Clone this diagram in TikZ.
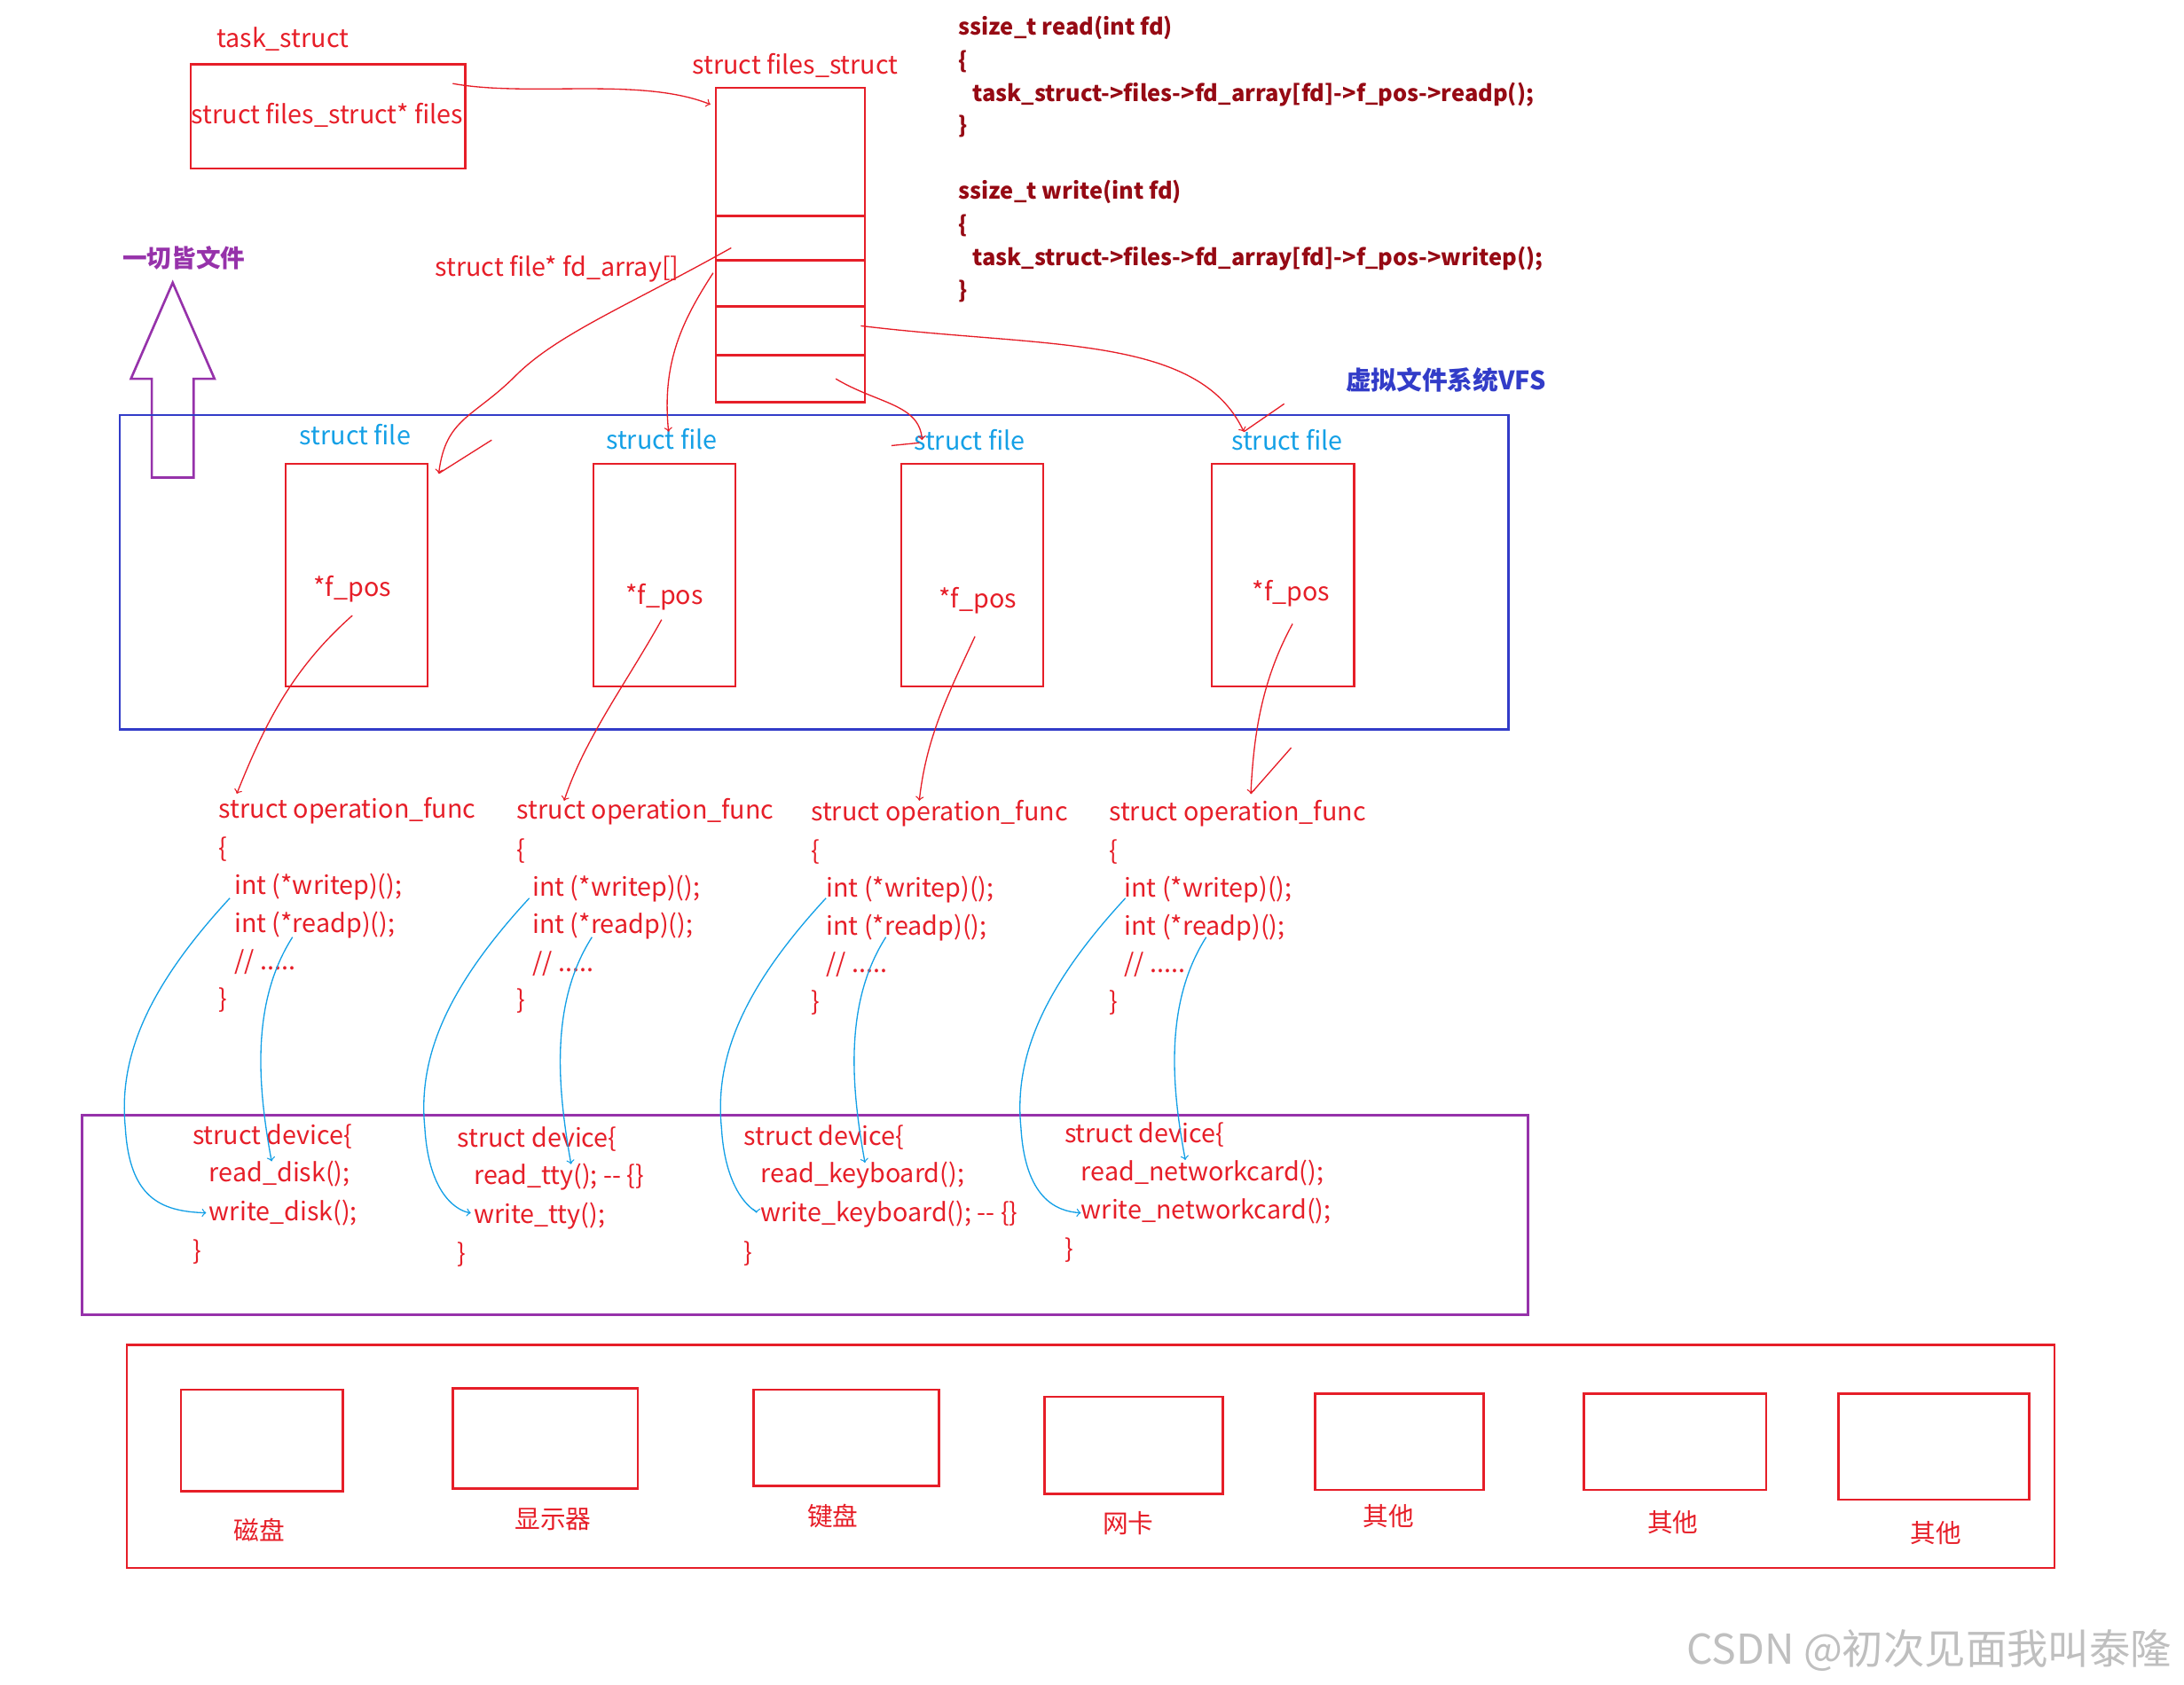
\documentclass[tikz,border=0pt]{standalone}
\usepackage{fontspec}
\setmainfont{Noto Sans CJK SC}
\definecolor{rd}{RGB}{230,30,40}
\definecolor{dr}{RGB}{150,10,20}
\definecolor{cy}{RGB}{20,160,230}
\definecolor{bl}{RGB}{50,60,200}
\definecolor{pu}{RGB}{150,50,170}
\tikzset{
 t/.style={font=\fontsize{13}{15}\selectfont,inner sep=0pt},
 rt/.style={t,text=rd,anchor=west},
 ct/.style={t,text=dr,anchor=west,font=\fontsize{11.5}{14}\selectfont\bfseries},
 box/.style={draw=rd,line width=1.2pt},
 rc/.style={draw=rd,line width=0.6pt,->,>=to},
 cc/.style={draw=cy,line width=0.6pt,->,>=to},
}
\begin{document}
\begin{tikzpicture}[x=0.025cm,y=-0.025cm]
\useasboundingbox (0,0) rectangle (1568,1210);
% top
\node[t,text=rd] (ts) at (203,28) {task\_struct};
\draw[box] (137,46) rectangle (334,121);
\node[t,text=rd] (ff) at (235,83) {struct files\_struct* files};
\node[t,text=rd] (fsl) at (571,47) {struct files\_struct};
\draw[box] (514,63) rectangle (621,289);
\foreach \y in {155,187,220,255} \draw[rd,line width=1.2pt] (514,\y)--(621,\y);
\coordinate (fsin) at (510,75);
\draw[rc] (325,60) .. controls (380,70) and (460,55) .. (fsin);
% code
\foreach \yy/\fn/\fp in {20/read/readp,138/write/writep}{
 \node[ct] at (688,\yy) {ssize\_t \fn(int fd)};
 \node[ct] at (688,\yy+24) {\{};
 \node[ct] at (698,\yy+48) {task\_struct->files->fd\_array[fd]->f\_pos->\fp();};
 \node[ct] at (688,\yy+71) {\}};
}
% everything is a file
\node[t,text=pu,font=\fontsize{12.5}{15}\bfseries] (ev) at (132,185) {一切皆文件};
\draw[pu,line width=1.2pt] (109,343)--(139,343)--(139,272)--(154,272)--(124,203)--(94,272)--(109,272)--cycle;
\node[t,text=rd] (fda) at (400,193) {struct file* fd\_array[]};
\node[t,text=bl,font=\fontsize{13}{15}\bfseries] (vfs) at (1038,273) {虚拟文件系统VFS};
\draw[bl,line width=1.2pt] (86,298) rectangle (1083,524);
% struct files
\foreach \i/\lx/\ly/\x/\fx/\fy in {1/255/312/205/253/423, 2/475/315/426/477/429, 3/696/316/647/702/431, 4/924/316/870/927/426}{
 \node[t,text=cy] (sf\i) at (\lx,\ly) {struct file};
 \draw[box] (\x,333) rectangle (\x+102,493);
 \node[t,text=rd] (fp\i) at (\fx,\fy) {*f\_pos};
}
\draw[rc] (525,178) .. controls (450,220) and (400,240) .. (370,270) .. controls (340,300) and (320,300) .. (315,340);
\draw[rd,line width=0.6pt] (315,340)--(353,316);
\draw[rc] (512,196) .. controls (490,230) and (475,260) .. (480,310);
\draw[rc] (600,272) .. controls (630,290) and (660,290) .. (662,316);
\draw[rd,line width=0.6pt] (640,320)--(660,318);
\draw[rc] (618,234) .. controls (750,250) and (860,240) .. (893,310);
\draw[rd,line width=0.6pt] (893,310)--(922,290);
% operation funcs
\foreach \i/\x/\y in {1/157/582, 2/371/583, 3/582/584, 4/796/584}{
 \node[rt] (op\i) at (\x,\y) {struct operation\_func};
 \node[rt] at (\x,\y+28) {\{};
 \node[rt] (w\i) at (\x+11,\y+55) {int (*writep)();};
 \node[rt] (r\i) at (\x+11,\y+82) {int (*readp)();};
 \node[rt] at (\x+11,\y+109) {// .....};
 \node[rt] at (\x,\y+136) {\}};
}
\draw[rc] (253,442) .. controls (210,480) and (190,520) .. (170,570);
\draw[rc] (475,445) .. controls (450,490) and (420,530) .. (405,575);
\draw[rc] (700,457) .. controls (680,500) and (665,530) .. (660,575);
\draw[rc] (928,448) .. controls (905,490) and (900,530) .. (898,570);
\draw[rd,line width=0.6pt] (898,570)--(927,537);
% devices
\draw[pu,line width=1.2pt] (59,801) rectangle (1097,944);
\foreach \i/\x/\y/\ra/\wa in {1/138/816/read\_disk();/write\_disk();, 2/328/818/read\_tty(); -{}- \{\}/write\_tty();, 3/534/817/read\_keyboard();/write\_keyboard(); -{}- \{\}, 4/764/815/read\_networkcard();/write\_networkcard();}{
 \node[rt] (d\i) at (\x,\y) {struct device\{};
 \node[rt] (dr\i) at (\x+12,\y+27) {\ra};
 \node[rt] (dw\i) at (\x+12,\y+55) {\wa};
 \node[rt] at (\x,\y+83) {\}};
}
\foreach \i/\wx/\rx/\dx/\ry in {1/165/210/148/816, 2/380/425/338/818, 3/593/636/543/817, 4/808/866/776/815}{
 \draw[cc] (\wx,645) .. controls (\wx-60,710) and (\wx-80,760) .. (\wx-75,810) .. controls (\wx-72,860) and (\wx-50,870) .. (\dx,871);
 \draw[cc] (\rx,673) .. controls (\rx-30,720) and (\rx-25,780) .. (\rx-15,\ry+18);
}
% hardware
\draw[box] (91,966) rectangle (1475,1126);
\foreach \x/\y/\X/\Y/\lx/\ly/\lab in {130/998/246/1071/186/1099/磁盘, 325/997/458/1069/397/1091/显示器, 541/998/674/1067/598/1089/键盘, 750/1003/878/1073/810/1094/网卡, 944/1001/1065/1070/997/1089/其他, 1137/1001/1268/1070/1201/1093/其他, 1320/1001/1457/1077/1390/1101/其他}{
 \draw[box] (\x,\y) rectangle (\X,\Y);
 \node[t,text=rd] at (\lx,\ly) {\lab};
}
\node[t,text=gray!50,font=\fontsize{21}{24}\selectfont] (wm) at (1385,1185) {CSDN @初次见面我叫泰隆};
\end{tikzpicture}
\end{document}
